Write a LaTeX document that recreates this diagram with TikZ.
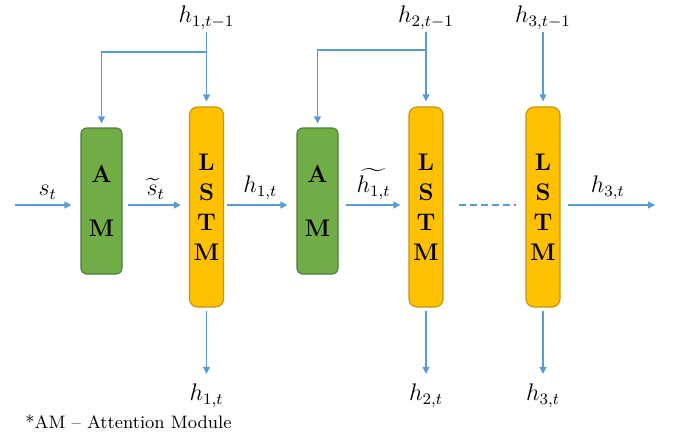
\documentclass[tikz,border=0pt]{standalone}
\usepackage{tikz}
\usetikzlibrary{arrows.meta,positioning}
\usepackage{amsmath,amssymb}
\definecolor{amfill}{RGB}{112,173,71}
\definecolor{amedge}{RGB}{80,125,60}
\definecolor{lstmfill}{RGB}{255,192,0}
\definecolor{lstmedge}{RGB}{196,150,20}
\definecolor{wire}{RGB}{91,155,213}
\tikzset{
  cell/.style={draw,line width=0.6pt,align=center,inner sep=0pt,font=\large\bfseries},
  ambox/.style={cell,draw=amedge,fill=amfill,rounded corners=3pt,minimum width=20.5pt,minimum height=73pt},
  lstmbox/.style={cell,draw=lstmedge,fill=lstmfill,rounded corners=4pt,minimum width=17pt,minimum height=100pt},
  link/.style={draw=wire,line width=0.6pt},
  flow/.style={link,-{Triangle[length=3.5pt,width=3.5pt]}},
  lab/.style={font=\large,inner sep=1pt},
}
\begin{document}
\begin{tikzpicture}[x=0.5pt,y=-0.5pt]
\useasboundingbox (0,0) rectangle (674,439);

\node[ambox] (am1) at (101.5,201) {A\\[13pt]M};
\node[lstmbox] (lstm1) at (206.5,207) {L\\[1pt]S\\[1pt]T\\[1pt]M};
\node[ambox] (am2) at (317.5,201) {A\\[13pt]M};
\node[lstmbox] (lstm2) at (426,207) {L\\[1pt]S\\[1pt]T\\[1pt]M};
\node[lstmbox] (lstm3) at (543,207) {L\\[1pt]S\\[1pt]T\\[1pt]M};

\node[lab] (h1p) at (lstm1.north |- 0,18) {$h_{1,t-1}$};
\node[lab] (h2p) at (lstm2.north |- 0,18) {$h_{2,t-1}$};
\node[lab] (h3p) at (lstm3.north |- 0,18) {$h_{3,t-1}$};
\node[lab] (h1o) at (lstm1.south |- 0,396) {$h_{1,t}$};
\node[lab] (h2o) at (lstm2.south |- 0,396) {$h_{2,t}$};
\node[lab] (h3o) at (lstm3.south |- 0,396) {$h_{3,t}$};

\coordinate (in) at (15,205);
\coordinate (out) at (655,205);
\coordinate (j1) at (h1p.south |- 0,52);
\coordinate (j2) at (h2p.south |- 0,50);

\draw[flow,shorten >=4.5pt] (in) -- (in -| am1.west) node[lab,midway,above=1.5pt]{$s_t$};
\draw[flow,shorten <=2.5pt,shorten >=4pt] (in -| am1.east) -- (in -| lstm1.west) node[lab,midway,above=1.5pt]{$\widetilde{s}_t$};
\draw[flow,shorten <=1.5pt,shorten >=4.5pt] (in -| lstm1.east) -- (in -| am2.west) node[lab,midway,above=1.5pt]{$h_{1,t}$};
\draw[flow,shorten <=3.5pt,shorten >=4pt] (in -| am2.east) -- (in -| lstm2.west) node[lab,midway,above=1.5pt]{$\widetilde{h_{1,t}}$};
\draw[link,dashed,dash pattern=on 3.5pt off 2pt,shorten <=7.5pt,shorten >=4.5pt] (in -| lstm2.east) -- (in -| lstm3.west);
\draw[flow,shorten <=3.5pt] (in -| lstm3.east) -- (out) node[lab,midway,above=1.5pt]{$h_{3,t}$};

\draw[flow,shorten >=2.5pt] (h1p) -- (lstm1.north);
\draw[flow,shorten >=2.5pt] (h2p) -- (lstm2.north);
\draw[flow,shorten >=2.5pt] (h3p) -- (lstm3.north);
\draw[flow,shorten >=2pt] (j1) -| (am1.north);
\draw[flow,shorten >=2pt] (j2) -| (am2.north);

\draw[flow,shorten <=1.5pt,shorten >=4pt] (lstm1.south) -- (h1o);
\draw[flow,shorten <=1.5pt,shorten >=4pt] (lstm2.south) -- (h2o);
\draw[flow,shorten <=1.5pt,shorten >=4pt] (lstm3.south) -- (h3o);

\node[anchor=west,inner sep=0pt,font=\small] (note) at (25,422) {*AM -- Attention Module};
\end{tikzpicture}
\end{document}
